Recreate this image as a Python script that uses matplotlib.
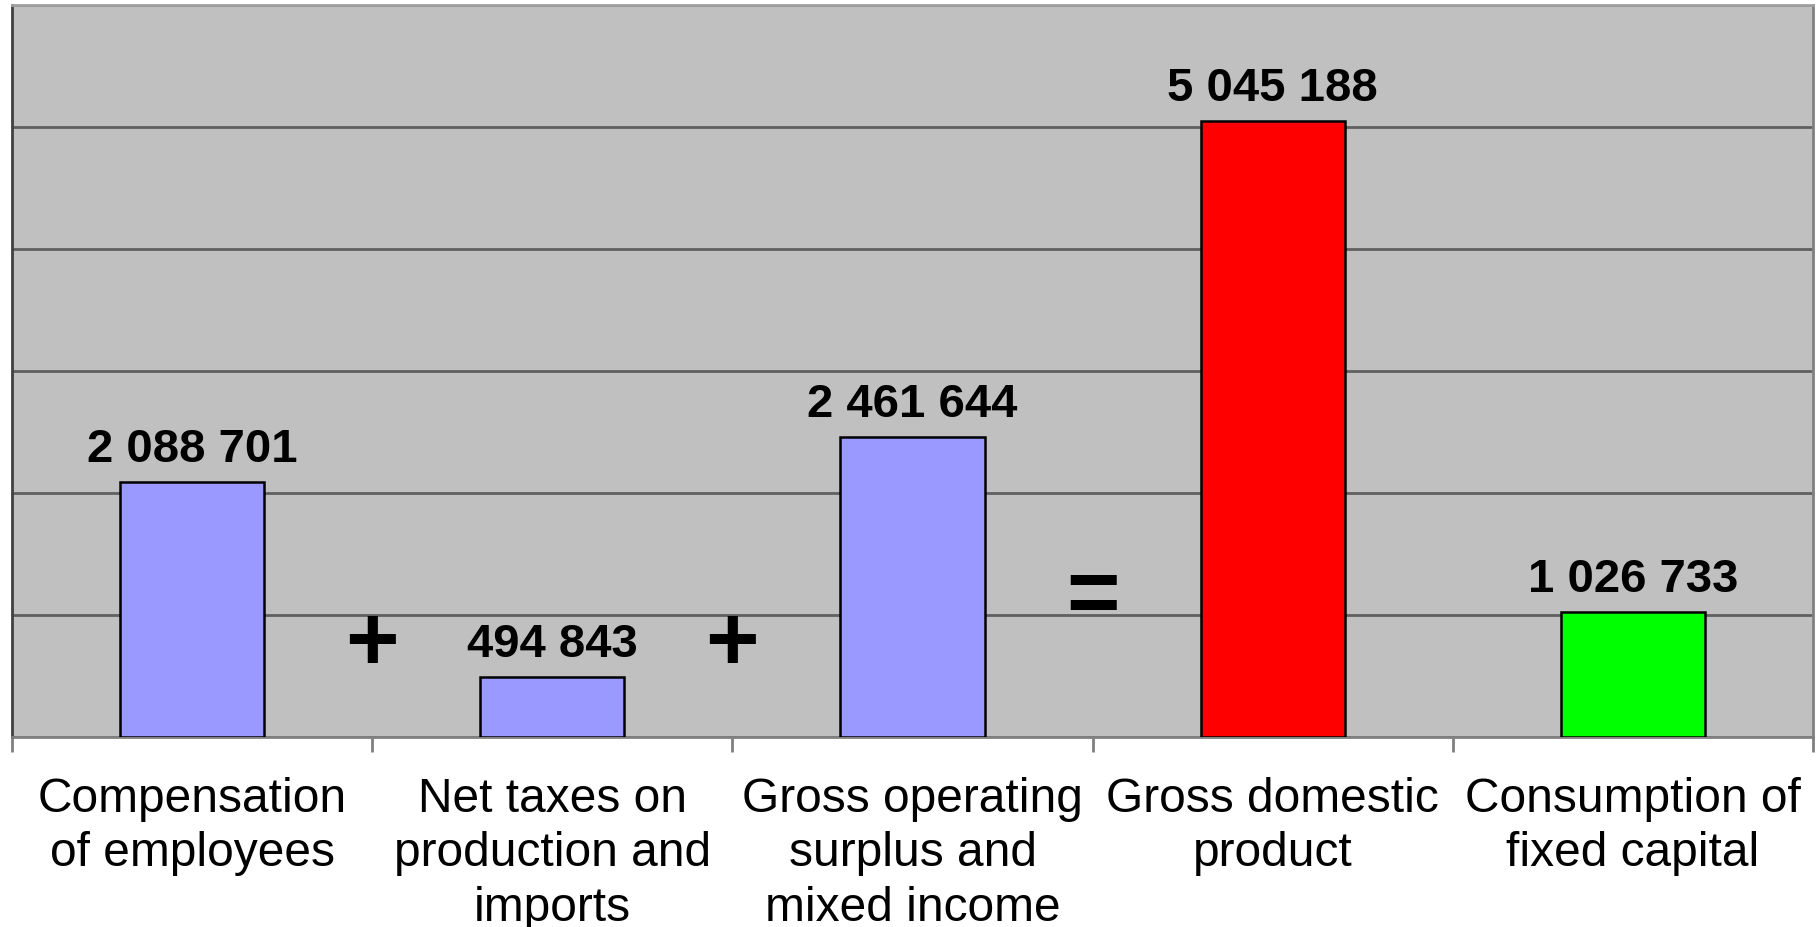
import matplotlib
matplotlib.use('Agg')
import matplotlib.pyplot as plt
import numpy as np

# 데이터
categories = ['Compensation\nof employees', 'Net taxes on\nproduction and\nimports',
              'Gross operating\nsurplus and\nmixed income', 'Gross domestic\nproduct',
              'Consumption of\nfixed capital']
values = [2088701, 494843, 2461644, 5045188, 1026733]
value_labels = ['2 088 701', '494 843', '2 461 644', '5 045 188', '1 026 733']
bar_colors = ['#9999ff', '#9999ff', '#9999ff', '#ff0000', '#00ff00']
operators = ['+', '+', '=']
operator_y = [755000, 755000, 1140000]

plt.rcParams['font.family'] = ['Liberation Sans', 'DejaVu Sans']

fig = plt.figure(figsize=(18.19, 9.28), dpi=100)
ax = fig.add_axes([12 / 1819, 190 / 928, 1801 / 1819, 732 / 928])
ax.set_facecolor('#c0c0c0')

x = np.arange(len(categories))
ax.bar(x, values, width=0.4, color=bar_colors, edgecolor='black', linewidth=1.8, zorder=3)

# 값 라벨
for xi, v, lab in zip(x, values, value_labels):
    ax.annotate(lab, (xi, v), xytext=(0, 8), textcoords='offset points',
                ha='center', va='bottom', fontsize=34, fontweight='bold')

# 연산자 기호
for i, (op, oy) in enumerate(zip(operators, operator_y)):
    ax.text(i + 0.5, oy, op, ha='center', va='center', fontsize=66,
            fontweight='bold', zorder=4)

ax.set_xlim(-0.5, len(categories) - 0.5)
ax.set_ylim(0, 6000000)
ax.set_yticks(np.arange(0, 6000001, 1000000))
ax.yaxis.grid(True, color='#606060', linewidth=2, zorder=0)
ax.tick_params(axis='y', length=0, labelleft=False)

ax.set_xticks(x)
ax.set_xticklabels(categories, fontsize=34.5, linespacing=1.27)
ax.set_xticks(np.arange(-0.5, len(categories), 1.0), minor=True)
ax.tick_params(axis='x', which='major', length=0, pad=28)
ax.tick_params(axis='x', which='minor', length=11, width=2, color='#808080')

ax.spines['left'].set_color('#404040')
ax.spines['left'].set_linewidth(2)
ax.spines['bottom'].set_color('#808080')
ax.spines['bottom'].set_linewidth(2)
ax.spines['top'].set_color('#a0a0a0')
ax.spines['top'].set_linewidth(2)
ax.spines['right'].set_color('#808080')
ax.spines['right'].set_linewidth(2)

fig.savefig('out.png', dpi=100, facecolor='white')
